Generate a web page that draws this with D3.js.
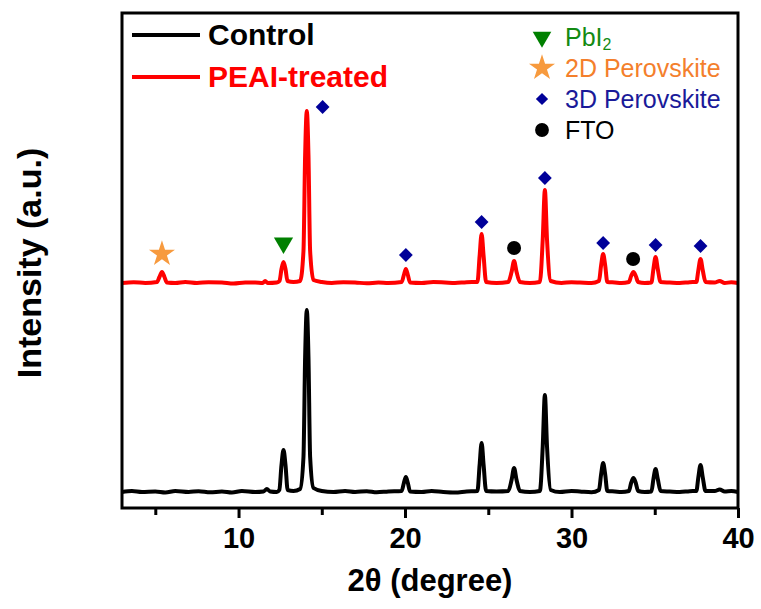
<!DOCTYPE html>
<html>
<head>
<meta charset="utf-8">
<script src="https://cdn.jsdelivr.net/npm/d3@7"></script>
<style>
  body { margin: 0; background: #fff; }
  text { font-family: "Liberation Sans", Arial, sans-serif; }
</style>
</head>
<body>
<svg width="761" height="609"></svg>
<script>
// XRD patterns: [2theta, intensity (a.u.)]
const control = [
  [3, 0], [3.6, 1], [4.2, 0], [5, 0.5], [5.6, -0.5], [6.2, 1], [7, 0], [7.6, 0.8], [8.3, -0.3],
  [9, 0.5], [9.6, -0.5], [10.2, 1], [11, 0], [11.5, 0.5], [11.7, 3], [11.9, 0.5], [12.3, 0],
  [12.45, 2], [12.58, 27], [12.7, 42], [12.82, 27], [12.95, 2], [13.3, 1], [13.7, 3], [13.9, 35],
  [14.0, 135], [14.1, 182], [14.2, 135], [14.3, 35], [14.5, 4], [15, 1], [15.7, 0], [16.4, 1],
  [17, 0], [17.7, 0.8], [18.3, -0.3], [19, 0.5], [19.8, 1], [19.93, 9], [20.05, 15], [20.17, 9],
  [20.3, 0.5], [21, 0], [21.6, 1], [22.3, 0], [23, -0.5], [23.7, 0.5], [24.35, 1], [24.48, 27],
  [24.6, 49], [24.72, 27], [24.87, 1], [25.5, 0.5], [26.2, 1], [26.4, 12], [26.55, 24],
  [26.7, 12], [26.9, 1], [27.5, 0], [28.1, 1], [28.27, 45], [28.4, 97], [28.53, 45], [28.75, 2],
  [29.3, 0], [30, 1], [30.5, 0.5], [31.2, -0.3], [31.65, 2], [31.78, 18], [31.9, 29], [32.02, 18],
  [32.15, 1], [32.6, 0.5], [33, 0], [33.45, 1], [33.58, 9], [33.72, 14], [33.86, 9], [34.0, 1],
  [34.4, 0], [34.8, 0.5], [34.92, 13], [35.05, 23], [35.18, 13], [35.35, 1], [35.9, 0.5],
  [36.5, 0], [37.1, 0.8], [37.5, 1], [37.62, 15], [37.75, 27], [37.88, 15], [38.05, 1],
  [38.6, 1], [38.9, 2.5], [39.2, 0.5], [39.6, 1], [40, 0]
];

const treated = [
  [3, 0], [3.7, 0.8], [4.4, 0], [5.1, 1], [5.25, 6], [5.4, 11], [5.55, 6], [5.7, 0.5], [6.2, 0],
  [6.8, 1], [7.5, 0], [8.2, 0.8], [9, 0.5], [9.7, -0.5], [10.4, 0.5], [11, 0.5], [11.45, 0],
  [11.6, 2], [11.75, 0], [12.3, 0.5], [12.46, 2], [12.58, 14], [12.7, 21], [12.82, 14], [12.94, 2],
  [13.3, 1], [13.7, 2], [13.9, 32], [14.0, 128], [14.1, 172], [14.2, 128], [14.3, 32], [14.5, 3],
  [15, 1], [15.6, 0], [16.3, 0.8], [17, 0.5], [17.7, -0.3], [18.4, 0.5], [19, 0], [19.8, 1],
  [19.93, 8], [20.05, 14], [20.17, 8], [20.3, 0.5], [21, 0], [21.7, 1], [22.4, 0.5], [23, 0],
  [23.7, 0.8], [24.35, 1], [24.48, 27], [24.6, 49], [24.72, 27], [24.87, 1], [25.5, 0], [26.2, 1],
  [26.4, 11], [26.55, 22], [26.7, 11], [26.9, 1], [27.5, 0], [28.1, 1], [28.27, 43], [28.4, 93],
  [28.53, 43], [28.75, 2], [29.4, 0], [30, 0.8], [30.5, 0.5], [31.2, 0], [31.65, 2], [31.78, 18],
  [31.9, 29], [32.02, 18], [32.15, 1], [32.6, 0.5], [33, 0], [33.45, 1], [33.58, 7], [33.72, 11],
  [33.86, 7], [34.0, 1], [34.4, 0], [34.8, 0.5], [34.92, 14], [35.05, 26], [35.18, 14], [35.35, 1],
  [35.9, 0.5], [36.5, 0], [37.1, 0.8], [37.5, 1], [37.62, 13], [37.75, 24], [37.88, 13], [38.05, 1],
  [38.6, 0.5], [38.9, 2], [39.2, 0], [39.6, 0.8], [40, 0]
];

// phase markers above the PEAI-treated pattern: [2theta, intensity]
const pbi2Marks = [[12.7, 40]];
const perov2DMarks = [[5.4, 29]];
const perov3DMarks = [[15.05, 176], [20.05, 28], [24.6, 61], [28.4, 105], [31.9, 40], [35.05, 38], [37.75, 37]];
const ftoMarks = [[26.55, 35], [33.7, 24]];

const xMajor = [10, 20, 30, 40];
const xMinor = [5, 15, 25, 35];
const seriesNames = ['Control', 'PEAI-treated'];
const phaseNames = ['PbI', '2D Perovskite', '3D Perovskite', 'FTO'];

const margin = {top: 13, right: 23, bottom: 101, left: 122};
const width = 761 - margin.left - margin.right,
      height = 609 - margin.top - margin.bottom;

const treatedOffset = 209;

const xScale = d3.scaleLinear().domain([3, 40]).range([0, width]);
const yScale = d3.scaleLinear().domain([-16, 479]).range([height, 0]);

const svg = d3.select('svg');
const g = svg.append('g').attr('transform', 'translate(' + margin.left + ',' + margin.top + ')');

const line = d3.line()
    .x(d => xScale(d[0]))
    .y(d => yScale(d[1]))
    .curve(d3.curveMonotoneX);

// curves
g.append('path')
    .datum(control)
    .attr('d', line)
    .attr('fill', 'none')
    .attr('stroke', '#000')
    .attr('stroke-width', 4)
    .attr('stroke-linejoin', 'round');

g.append('path')
    .datum(treated.map(d => [d[0], d[1] + treatedOffset]))
    .attr('d', line)
    .attr('fill', 'none')
    .attr('stroke', '#ff0000')
    .attr('stroke-width', 4)
    .attr('stroke-linejoin', 'round');

// markers
const mx = d => xScale(d[0]);
const my = d => yScale(d[1] + treatedOffset);

g.selectAll('.tri').data(pbi2Marks).enter().append('path')
    .attr('transform', d => 'translate(' + mx(d) + ',' + my(d) + ') rotate(180)')
    .attr('d', d3.symbol(d3.symbolTriangle, 160))
    .attr('fill', '#008000');

g.selectAll('.star').data(perov2DMarks).enter().append('path')
    .attr('transform', d => 'translate(' + mx(d) + ',' + my(d) + ')')
    .attr('d', d3.symbol(d3.symbolStar, 210))
    .attr('fill', '#f79a3e');

g.selectAll('.dia').data(perov3DMarks).enter().append('path')
    .attr('transform', d => 'translate(' + mx(d) + ',' + my(d) + ') rotate(45)')
    .attr('d', d3.symbol(d3.symbolSquare, 95))
    .attr('fill', '#000099');

g.selectAll('.dot').data(ftoMarks).enter().append('circle')
    .attr('cx', mx)
    .attr('cy', my)
    .attr('r', 7)
    .attr('fill', '#000');

// x axis
const xAxis = g.append('g')
    .attr('transform', 'translate(0,' + height + ')')
    .call(d3.axisBottom(xScale).tickValues(xMajor).tickSize(10).tickPadding(9).tickFormat(d3.format('d')));
xAxis.select('.domain').remove();
xAxis.selectAll('line').attr('stroke-width', 3);
xAxis.selectAll('text')
    .attr('font-size', 29)
    .attr('font-weight', 'bold')
    .attr('fill', '#000')
    .style('font-family', '"Liberation Sans", Arial, sans-serif');

const xMinorAxis = g.append('g')
    .attr('transform', 'translate(0,' + height + ')')
    .call(d3.axisBottom(xScale).tickValues(xMinor).tickSize(7).tickFormat(''));
xMinorAxis.select('.domain').remove();
xMinorAxis.selectAll('line').attr('stroke-width', 3);

// frame
g.append('rect')
    .attr('x', 0).attr('y', 0)
    .attr('width', width).attr('height', height)
    .attr('fill', 'none')
    .attr('stroke', '#000')
    .attr('stroke-width', 3);

// axis titles
svg.append('text')
    .attr('x', margin.left + width / 2)
    .attr('y', 591)
    .attr('text-anchor', 'middle')
    .attr('font-size', 31)
    .attr('font-weight', 'bold')
    .text('2\u03b8 (degree)');

svg.append('text')
    .attr('transform', 'translate(41,263) rotate(-90)')
    .attr('text-anchor', 'middle')
    .attr('font-size', 34)
    .attr('font-weight', 'bold')
    .text('Intensity (a.u.)');

// left legend
const legColors = ['#000', '#ff0000'];
const leg = svg.append('g');
seriesNames.forEach((name, i) => {
    const y = 35 + i * 42;
    leg.append('line')
        .attr('x1', 132).attr('x2', 200)
        .attr('y1', y).attr('y2', y)
        .attr('stroke', legColors[i])
        .attr('stroke-width', 4);
    leg.append('text')
        .attr('x', 208).attr('y', y + 10)
        .attr('font-size', 30)
        .attr('font-weight', 'bold')
        .attr('fill', legColors[i])
        .text(name);
});

// right legend
const phaseColors = ['#138a13', '#f47f2c', '#1a1a99', '#000'];
const phaseSymbols = [
    {type: d3.symbolTriangle, size: 150, rot: 180, fill: '#008000'},
    {type: d3.symbolStar, size: 210, rot: 0, fill: '#f79a3e'},
    {type: d3.symbolSquare, size: 75, rot: 45, fill: '#000099'},
    {type: d3.symbolCircle, size: 150, rot: 0, fill: '#000'}
];
const legR = svg.append('g');
phaseNames.forEach((name, i) => {
    const y = 37 + i * 31;
    const s = phaseSymbols[i];
    legR.append('path')
        .attr('transform', 'translate(542,' + y + ') rotate(' + s.rot + ')')
        .attr('d', d3.symbol(s.type, s.size))
        .attr('fill', s.fill);
    const t = legR.append('text')
        .attr('x', 565).attr('y', y + 9)
        .attr('font-size', 25)
        .attr('fill', phaseColors[i])
        .text(name);
    if (i === 0) {
        t.append('tspan').attr('dy', 4).attr('font-size', 16).text('2');
    }
});
</script>
</body>
</html>
